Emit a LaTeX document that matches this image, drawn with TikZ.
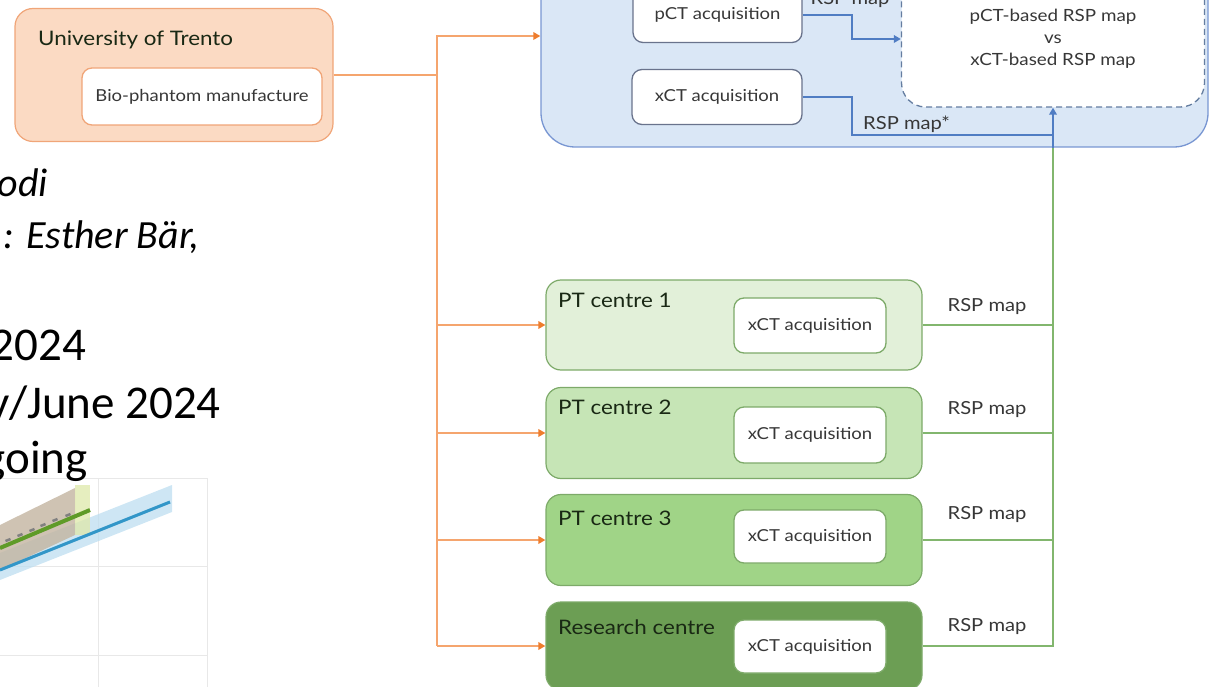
\documentclass[tikz,border=0pt]{standalone}
\usepackage{fontspec}
\setmainfont{Lato}[FakeStretch=1.12]
\newfontfamily\slidefont{Carlito}
\usetikzlibrary{arrows.meta}
\definecolor{orfill}{RGB}{251,218,195}
\definecolor{ordraw}{RGB}{240,165,120}
\definecolor{orline}{RGB}{245,165,110}
\definecolor{orarrow}{RGB}{238,125,45}
\definecolor{blfill}{RGB}{218,231,246}
\definecolor{bldraw}{RGB}{120,150,210}
\definecolor{blline}{RGB}{80,125,195}
\definecolor{dashdraw}{RGB}{100,125,160}
\definecolor{wbdraw}{RGB}{105,115,140}
\definecolor{g1}{RGB}{226,240,217}
\definecolor{g2}{RGB}{198,229,182}
\definecolor{g3}{RGB}{160,212,135}
\definecolor{g4}{RGB}{108,158,84}
\definecolor{gdraw}{RGB}{125,170,105}
\definecolor{gline}{RGB}{130,182,110}
\definecolor{txt}{RGB}{55,55,55}
\definecolor{gtxt}{RGB}{25,40,20}
\definecolor{gridc}{RGB}{232,232,232}
\definecolor{cblue}{RGB}{50,150,200}
\definecolor{cband}{RGB}{190,222,240}
\definecolor{ctan}{RGB}{195,180,160}
\definecolor{cyg}{RGB}{222,232,170}
\definecolor{cgreen}{RGB}{95,155,40}
\tikzset{
  orangebox/.style={rectangle, rounded corners=18pt, draw=ordraw, fill=orfill, line width=1.2pt, inner sep=0pt},
  bluebox/.style={rectangle, rounded corners=34pt, draw=bldraw, fill=blfill, line width=1.3pt, inner sep=0pt},
  dashbox/.style={rectangle, rounded corners=24pt, draw=dashdraw, fill=white, line width=1.3pt, dash pattern=on 6pt off 4pt, inner sep=0pt},
  greenbox/.style={rectangle, rounded corners=15pt, draw=gdraw, line width=1.2pt, inner sep=0pt, minimum width=376pt},
  whitebox/.style={rectangle, rounded corners=10pt, fill=white, line width=1.3pt, inner sep=0pt, font=\fontsize{16.5}{19}\selectfont, text=txt},
  lbl/.style={inner sep=0pt, text=txt, font=\fontsize{18}{21}\selectfont},
  glbl/.style={inner sep=0pt, text=gtxt, font=\fontsize{20}{23}\selectfont, anchor=west},
  orconn/.style={draw=orline, line width=2pt},
  orarr/.style={orconn, -{Triangle[length=7pt,width=7.5pt,color=orarrow]}},
  bconn/.style={draw=blline, line width=1.8pt},
  barr/.style={bconn, -{Triangle[length=7pt,width=7.5pt,color=blline]}},
  gconn/.style={draw=gline, line width=1.8pt},
  slideit/.style={inner sep=0pt, anchor=base east, font=\slidefont\itshape\fontsize{40}{48}\selectfont},
  slidert/.style={inner sep=0pt, anchor=base east, font=\slidefont\fontsize{47}{54}\selectfont},
}
\begin{document}
\begin{tikzpicture}[x=1pt,y=-1pt]
\useasboundingbox (0,0) rectangle (1210,687);
\begin{scope}
\clip (0,0) rectangle (1210,687);
% ---------- slide background: text ----------
\node[slideit] (s1) at (48,197) {odi};
\node[slideit] (s2) at (200,248) {: Esther Bär,};
\node[slidert] (s3) at (86,360) {2024};
\node[slidert] (s4) at (221,418) {y/June 2024};
% ---------- slide background: chart ----------
\draw[gridc, line width=1pt] (0,478) -- (207,478) (0,566) -- (207,566) (0,655) -- (207,655)
  (98,478) -- (98,690) (207,478) -- (207,690);
\fill[cband, opacity=0.75] (0,553) -- (172,485) -- (172,512) -- (0,580) -- cycle;
\fill[ctan, opacity=0.8] (0,525) -- (75,488) -- (75,535) -- (0,570) -- cycle;
\fill[cyg, opacity=0.75] (75,485) rectangle (90,535);
\draw[cblue, line width=3pt] (0,570) -- (170,502);
\draw[cgreen, line width=4pt] (0,548) -- (90,510);
\foreach \mx/\my in {8/540,20/535,32/530,43/525,55/520,68/515}
  \draw[gray, line width=2.5pt] (\mx-2.5,\my+1) -- (\mx+2.5,\my-1);
\node[slidert] (s5) at (88,473) {going};
% ---------- diagram ----------
\node[orangebox, minimum width=318pt, minimum height=133pt] (trento) at (174,75) {};
\node[lbl, anchor=west, font=\fontsize{20}{24}\selectfont, text=gtxt] (trentolbl) at (38,40) {University of Trento};
\node[whitebox, draw=ordraw, minimum width=240pt, minimum height=57pt] (bio) at (202,96.5) {Bio-phantom manufacture};

\node[bluebox, minimum width=667pt, minimum height=187pt] (tps) at (874.5,53.5) {};
\node[whitebox, draw=wbdraw, minimum width=169pt, minimum height=55pt] (pct) at (717.5,15) {pCT acquisition};
\node[whitebox, draw=wbdraw, minimum width=170pt, minimum height=55pt] (xct) at (717,97) {xCT acquisition};
\node[dashbox, minimum width=303pt, minimum height=147pt] (cmp) at (1053,33.5) {};
\node[lbl, align=center, font=\fontsize{16.8}{22}\selectfont] (cmptxt) at (1053,39) {pCT-based RSP map\\vs\\xCT-based RSP map};

\node[greenbox, fill=g1, minimum height=90pt] (pt1) at (734,325) {};
\node[greenbox, fill=g2, minimum height=91pt] (pt2) at (734,433) {};
\node[greenbox, fill=g3, minimum height=91pt] (pt3) at (734,540) {};
\node[greenbox, fill=g4, minimum height=88pt] (rc) at (734,646) {};
\node[glbl] (pt1l) at (558,300) {PT centre 1};
\node[glbl] (pt2l) at (558,407) {PT centre 2};
\node[glbl] (pt3l) at (558,518) {PT centre 3};
\node[glbl] (rcl) at (558,627) {Research centre};
\node[whitebox, draw=gdraw, minimum width=152pt, minimum height=55pt] (x1) at (810,325.5) {xCT acquisition};
\node[whitebox, draw=gdraw, minimum width=152pt, minimum height=56pt] (x2) at (810,435) {xCT acquisition};
\node[whitebox, draw=gdraw, minimum width=152pt, minimum height=53pt] (x3) at (810,536.5) {xCT acquisition};
\node[whitebox, draw=gdraw, minimum width=152pt, minimum height=53pt] (x4) at (810,646.5) {xCT acquisition};

% orange connectors
\coordinate (oj) at (437,75);
\coordinate (otop) at (437,36);
\draw[orconn] (trento.east) -- (oj) -- (oj |- rc.west);
\draw[orarr] (oj) -- (otop) -- (otop -| tps.west);
\draw[orarr] (oj |- pt1.west) -- (pt1.west);
\draw[orarr] (oj |- pt2.west) -- (pt2.west);
\draw[orarr] (oj |- pt3.west) -- (pt3.west);
\draw[orarr] (oj |- rc.west) -- (rc.west);

% green connectors
\coordinate (gtop) at (cmp.south |- tps.south);
\draw[gconn] (rc.east) -| (gtop);
\draw[gconn] (pt1.east) -- (pt1.east -| gtop);
\draw[gconn] (pt2.east) -- (pt2.east -| gtop);
\draw[gconn] (pt3.east) -- (pt3.east -| gtop);
\node[lbl] (r1) at (987,307) {RSP map};
\node[lbl] (r2) at (987,410) {RSP map};
\node[lbl] (r3) at (987,515) {RSP map};
\node[lbl] (r4) at (987,627) {RSP map};

% blue connectors
\coordinate (pb) at (852,39);
\coordinate (xb) at (852,135);
\draw[barr] (pct.east) -| (pb) -- (pb -| cmp.west);
\draw[bconn] (xct.east) -| (xb) -- (xb -| gtop);
\draw[barr] (gtop) -- (cmp.south);
\node[lbl, anchor=base] (r0) at (850,5) {RSP map};
\node[lbl, anchor=base west] (r5) at (863,130) {RSP map*};
\end{scope}
\end{tikzpicture}
\end{document}
